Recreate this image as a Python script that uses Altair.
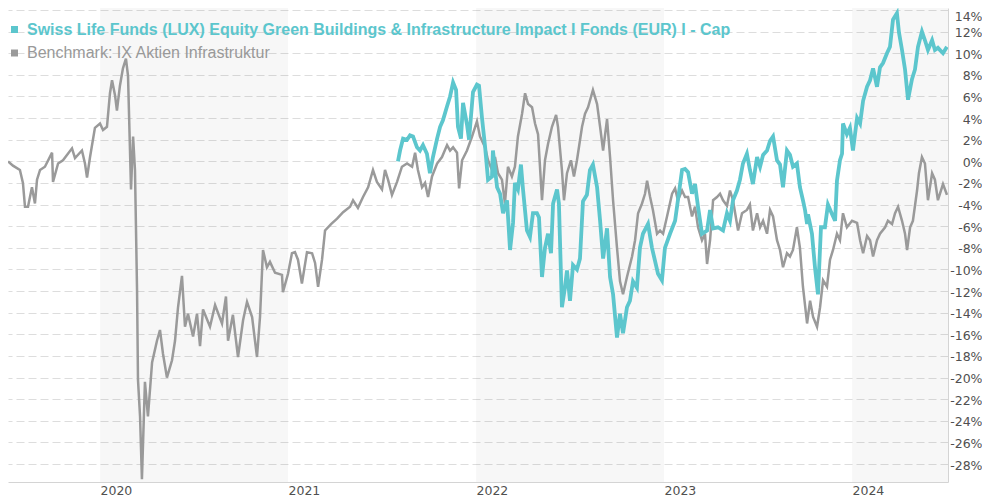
import altair as alt
import pandas as pd

# ---------------- data (decimal years, performance in %) ----------------
fund_name = "Swiss Life Funds (LUX) Equity Green Buildings & Infrastructure Impact I Fonds (EUR) I - Cap"
bench_name = "Benchmark: IX Aktien Infrastruktur"

years = [2020, 2021, 2022, 2023, 2024]
shaded_start = [2020, 2022, 2024]
shaded_end = [2021, 2023, 2025]
y_ticks = list(range(-28, 15, 2))

bench_t = [
    2019.511, 2019.537, 2019.574, 2019.590, 2019.601, 2019.617, 2019.638, 2019.654, 2019.665, 2019.681,
    2019.707, 2019.745, 2019.750, 2019.777, 2019.803, 2019.851, 2019.867, 2019.904, 2019.920, 2019.931,
    2019.947, 2019.973, 2020.000, 2020.016, 2020.037, 2020.053, 2020.064, 2020.080, 2020.090, 2020.106,
    2020.122, 2020.138, 2020.149, 2020.165, 2020.176, 2020.186, 2020.197, 2020.202, 2020.213, 2020.223,
    2020.239, 2020.255, 2020.277, 2020.303, 2020.319, 2020.335, 2020.356, 2020.383, 2020.399, 2020.415,
    2020.436, 2020.452, 2020.468, 2020.495, 2020.516, 2020.532, 2020.548, 2020.585, 2020.612, 2020.649,
    2020.670, 2020.681, 2020.707, 2020.734, 2020.761, 2020.782, 2020.809, 2020.835, 2020.851, 2020.867,
    2020.888, 2020.904, 2020.931, 2020.968, 2020.973, 2021.000, 2021.021, 2021.037, 2021.053, 2021.074,
    2021.101, 2021.128, 2021.144, 2021.160, 2021.181, 2021.197, 2021.229, 2021.261, 2021.293, 2021.330,
    2021.346, 2021.372, 2021.399, 2021.426, 2021.452, 2021.473, 2021.500, 2021.516, 2021.532, 2021.553,
    2021.580, 2021.606, 2021.633, 2021.660, 2021.676, 2021.691, 2021.713, 2021.729, 2021.745, 2021.766,
    2021.793, 2021.819, 2021.846, 2021.862, 2021.878, 2021.899, 2021.910, 2021.926, 2021.952, 2021.979,
    2022.005, 2022.021, 2022.048, 2022.064, 2022.085, 2022.101, 2022.117, 2022.138, 2022.154, 2022.170,
    2022.191, 2022.207, 2022.223, 2022.245, 2022.261, 2022.277, 2022.298, 2022.314, 2022.330, 2022.351,
    2022.367, 2022.383, 2022.404, 2022.426, 2022.436, 2022.457, 2022.468, 2022.484, 2022.505, 2022.521,
    2022.537, 2022.564, 2022.580, 2022.596, 2022.622, 2022.644, 2022.660, 2022.676, 2022.697, 2022.713,
    2022.729, 2022.750, 2022.766, 2022.782, 2022.803, 2022.830, 2022.846, 2022.862, 2022.883, 2022.899,
    2022.910, 2022.926, 2022.941, 2022.963, 2022.979, 2022.995, 2023.016, 2023.043, 2023.059, 2023.074,
    2023.096, 2023.112, 2023.128, 2023.149, 2023.165, 2023.181, 2023.202, 2023.218, 2023.229, 2023.245,
    2023.261, 2023.282, 2023.298, 2023.314, 2023.335, 2023.351, 2023.367, 2023.394, 2023.415, 2023.441,
    2023.457, 2023.473, 2023.495, 2023.511, 2023.527, 2023.548, 2023.564, 2023.580, 2023.601, 2023.617,
    2023.633, 2023.654, 2023.670, 2023.686, 2023.707, 2023.723, 2023.739, 2023.761, 2023.777, 2023.793,
    2023.814, 2023.830, 2023.846, 2023.867, 2023.883, 2023.899, 2023.920, 2023.936, 2023.952, 2023.973,
    2024.000, 2024.027, 2024.043, 2024.059, 2024.080, 2024.096, 2024.112, 2024.133, 2024.149, 2024.176,
    2024.191, 2024.213, 2024.229, 2024.245, 2024.266, 2024.282, 2024.293, 2024.309, 2024.324, 2024.346,
    2024.356, 2024.372, 2024.388, 2024.404, 2024.426, 2024.441, 2024.457, 2024.484, 2024.505,
]
bench_v = [
    0.0, -0.4, -0.8, -2.0, -4.2, -4.2, -2.4, -3.9, -1.7, -0.8,
    -0.5, 0.8, -1.9, -0.2, 0.1, 1.2, 0.3, 1.0, -0.2, -1.5,
    0.4, 3.1, 3.5, 2.9, 3.2, 6.3, 7.5, 6.1, 4.7, 7.0,
    8.6, 9.5, 7.9, -2.6, 2.3, -0.8, -11.9, -20.2, -23.6, -29.4,
    -20.4, -23.6, -18.6, -16.6, -15.6, -17.8, -20.0, -18.4, -16.6, -13.5,
    -10.6, -15.3, -14.1, -16.2, -14.1, -17.1, -13.7, -15.3, -13.3, -15.0,
    -12.5, -16.6, -14.2, -18.1, -14.7, -13.0, -14.4, -18.1, -14.4, -8.2,
    -9.8, -9.3, -10.3, -10.5, -12.1, -10.4, -8.5, -8.4, -9.1, -11.3,
    -8.4, -8.5, -9.4, -11.6, -9.1, -6.4, -5.8, -5.3, -4.7, -4.2,
    -3.6, -4.3, -3.3, -2.4, -0.8, -1.9, -2.6, -0.8, -1.7, -3.1,
    -1.9, -0.5, -0.2, -0.5, 0.8, -0.8, -2.4, -2.0, -3.3, -1.4,
    -0.2, 0.4, 1.5, 1.0, 1.3, 0.8, -2.5, 0.1, 1.0, 2.3,
    3.7, 2.3, 1.3, 0.1, -0.8, 0.4, -1.1, -1.7, -3.9, -0.5,
    -1.4, -0.5, 2.3, 4.4, 6.3, 5.3, 5.0, 3.5, 2.5, -3.6,
    0.1, 1.6, 3.2, 4.3, 3.2, -0.8, -3.6, -1.1, 0.1, -1.4,
    0.1, 3.2, 4.4, 5.0, 6.6, 5.3, 3.2, 1.0, 3.9, 0.4,
    -3.6, -8.0, -11.1, -12.3, -10.7, -8.8, -7.3, -4.8, -3.9, -3.0,
    -1.8, -3.3, -4.5, -6.7, -6.4, -6.7, -5.1, -3.0, -2.5, -3.6,
    -2.7, -3.3, -3.3, -5.1, -4.2, -6.1, -7.3, -6.7, -9.5, -7.3,
    -3.6, -3.3, -3.0, -3.6, -4.1, -2.7, -3.6, -6.4, -4.8, -4.5,
    -4.0, -6.4, -4.8, -6.1, -5.5, -6.7, -4.5, -5.1, -7.3, -8.2,
    -9.8, -8.5, -8.8, -8.2, -6.1, -8.0, -11.6, -15.0, -12.9, -14.4,
    -15.3, -13.5, -11.0, -11.6, -9.1, -8.2, -6.7, -7.3, -4.8, -6.1,
    -5.5, -5.7, -7.3, -8.5, -6.9, -7.3, -8.8, -7.3, -6.7, -6.1,
    -5.5, -5.8, -4.8, -4.2, -5.5, -6.7, -8.2, -6.1, -5.5, -2.7,
    -1.1, 0.4, -0.2, -3.6, -1.1, -1.7, -3.6, -2.1, -3.1,
]

fund_t = [
    2021.585, 2021.596, 2021.612, 2021.633, 2021.649, 2021.665, 2021.686, 2021.702, 2021.718, 2021.739,
    2021.755, 2021.771, 2021.793, 2021.809, 2021.824, 2021.846, 2021.862, 2021.878, 2021.894, 2021.904,
    2021.920, 2021.931, 2021.952, 2021.963, 2021.984, 2022.005, 2022.016, 2022.032, 2022.048, 2022.064,
    2022.085, 2022.090, 2022.112, 2022.128, 2022.144, 2022.165, 2022.181, 2022.197, 2022.207, 2022.223,
    2022.239, 2022.250, 2022.271, 2022.287, 2022.303, 2022.324, 2022.335, 2022.351, 2022.367, 2022.383,
    2022.399, 2022.410, 2022.431, 2022.441, 2022.457, 2022.473, 2022.484, 2022.500, 2022.516, 2022.537,
    2022.553, 2022.569, 2022.590, 2022.606, 2022.622, 2022.644, 2022.660, 2022.676, 2022.697, 2022.713,
    2022.729, 2022.750, 2022.766, 2022.782, 2022.803, 2022.819, 2022.835, 2022.856, 2022.872, 2022.888,
    2022.915, 2022.936, 2022.952, 2022.968, 2022.989, 2023.005, 2023.032, 2023.059, 2023.074, 2023.096,
    2023.112, 2023.128, 2023.149, 2023.165, 2023.181, 2023.202, 2023.229, 2023.245, 2023.261, 2023.287,
    2023.314, 2023.335, 2023.351, 2023.367, 2023.388, 2023.404, 2023.420, 2023.441, 2023.457, 2023.473,
    2023.495, 2023.511, 2023.527, 2023.548, 2023.564, 2023.580, 2023.601, 2023.617, 2023.633, 2023.654,
    2023.670, 2023.686, 2023.707, 2023.723, 2023.739, 2023.750, 2023.761, 2023.766, 2023.787, 2023.803,
    2023.819, 2023.835, 2023.856, 2023.872, 2023.894, 2023.910, 2023.920, 2023.936, 2023.947, 2023.952,
    2023.973, 2023.989, 2024.005, 2024.027, 2024.043, 2024.059, 2024.080, 2024.096, 2024.112, 2024.133,
    2024.149, 2024.165, 2024.186, 2024.202, 2024.218, 2024.239, 2024.250, 2024.266, 2024.282, 2024.298,
    2024.319, 2024.335, 2024.351, 2024.372, 2024.388, 2024.404, 2024.426, 2024.441, 2024.457, 2024.484,
    2024.505,
]
fund_v = [
    0.0, 1.0, 2.1, 2.0, 2.4, 2.3, 1.3, 1.0, 1.5, 0.7,
    -1.1, 0.4, 2.1, 3.2, 3.8, 5.1, 6.0, 7.3, 6.6, 3.2,
    2.1, 5.4, 3.4, 2.0, 6.4, 7.1, 7.0, 4.0, 1.4, -1.7,
    -1.4, 1.0, -2.4, -3.0, -4.8, -3.6, -8.2, -5.7, -2.0, -2.6,
    -0.3, -2.6, -6.4, -7.0, -4.8, -4.8, -5.2, -10.7, -8.0, -6.7,
    -8.5, -3.9, -2.6, -3.9, -13.5, -11.7, -10.1, -12.9, -9.6, -10.0,
    -9.0, -3.7, -3.1, -0.8, -0.3, -2.4, -5.5, -9.0, -6.2, -10.7,
    -12.3, -16.3, -14.1, -15.9, -13.5, -12.9, -11.1, -11.7, -8.0, -6.7,
    -5.8, -8.0, -9.2, -10.4, -11.0, -8.0, -6.7, -5.5, -3.6, -0.8,
    -0.7, -1.0, -3.0, -2.1, -4.2, -6.7, -6.4, -4.5, -6.2, -6.1,
    -6.4, -4.8, -5.5, -3.6, -2.7, -1.7, -0.2, 0.7, -0.8, -2.1,
    0.4, -0.5, 0.6, 1.0, 1.9, 2.3, 0.1, -0.3, -2.4, 1.0,
    0.6, -0.5, -0.2, -2.4, -3.6, -4.5, -5.8, -4.9, -6.7, -9.8,
    -12.3, -6.1, -6.1, -4.0, -4.9, -5.5, -1.8, 0.1, 0.7, 3.5,
    2.5, 3.1, 1.0, 4.0, 3.5, 5.6, 6.9, 7.5, 8.6, 6.9,
    8.7, 9.1, 10.0, 10.6, 13.1, 13.7, 11.9, 10.3, 8.5, 5.7,
    7.6, 8.5, 10.6, 12.0, 11.2, 10.3, 11.2, 10.3, 10.5, 10.0,
    10.6,
]

# ---------------- styling ----------------
TEAL = "#5cc6cd"
GREY = "#9a9a9a"
AXIS_FONT = "DejaVu Sans"

bench_df = pd.DataFrame({"t": bench_t, "v": bench_v})
fund_df = pd.DataFrame({"t": fund_t, "v": fund_v})
band_df = pd.DataFrame({"s": shaded_start, "e": shaded_end})

x_scale = alt.Scale(domain=[2019.5106, 2024.5106], nice=False, zero=False)
y_scale = alt.Scale(domain=[-29.665, 14.185], nice=False, zero=False)

x_axis = alt.Axis(
    values=years, format="d", labelAlign="left", labelBaseline="top", labelPadding=2,
    labelFont=AXIS_FONT, labelFontSize=12.5, labelColor="#505050", labelFlush=False,
    ticks=False, grid=False, domainColor="#d4d4d4", title=None,
)
y_axis = alt.Axis(
    orient="right", values=y_ticks, labelExpr="datum.value + '%'", labelAlign="right",
    labelBaseline="middle", labelPadding=34,
    labelOffset={"condition": {"test": "datum.value >= 14", "value": 7}, "value": 1},
    labelFont=AXIS_FONT, labelFontSize=12.5,
    labelColor="#505050", ticks=False, grid=True, gridColor="#dddddd", gridDash=[8, 4],
    domainColor="#d4d4d4", title=None,
)

bands = alt.Chart(band_df).mark_rect(color="#000000", opacity=0.03, clip=True).encode(
    x=alt.X("s:Q", scale=x_scale, axis=x_axis),
    x2="e:Q",
)

bench_line = alt.Chart(bench_df).mark_line(color=GREY, strokeWidth=2.5, clip=True).encode(
    x=alt.X("t:Q", scale=x_scale, axis=x_axis),
    y=alt.Y("v:Q", scale=y_scale, axis=y_axis),
    order="t:Q",
)

fund_line = alt.Chart(fund_df).mark_line(color=TEAL, strokeWidth=3.8, clip=True).encode(
    x=alt.X("t:Q", scale=x_scale, axis=x_axis),
    y=alt.Y("v:Q", scale=y_scale, axis=y_axis),
    order="t:Q",
)

leg_fund_df = pd.DataFrame({"label": [fund_name]})
leg_bench_df = pd.DataFrame({"label": [bench_name]})

leg_fund_sq = alt.Chart(leg_fund_df).mark_point(shape="square", filled=True, size=49, color=TEAL, opacity=1).encode(
    x=alt.value(6.5), y=alt.value(21.5)
)
leg_fund_txt = alt.Chart(leg_fund_df).mark_text(
    align="left", baseline="middle", font="Liberation Sans", fontSize=16, fontWeight="bold", color=TEAL
).encode(x=alt.value(19), y=alt.value(22), text="label:N")

leg_bench_sq = alt.Chart(leg_bench_df).mark_point(shape="square", filled=True, size=49, color=GREY, opacity=1).encode(
    x=alt.value(6.5), y=alt.value(45)
)
leg_bench_txt = alt.Chart(leg_bench_df).mark_text(
    align="left", baseline="middle", font="Liberation Sans", fontSize=16, color="#999999"
).encode(x=alt.value(19), y=alt.value(45), text="label:N")

chart = alt.layer(
    bands, bench_line, fund_line, leg_fund_sq, leg_fund_txt, leg_bench_sq, leg_bench_txt
).properties(
    width=940, height=474,
    autosize=alt.AutoSizeParams(type="none"),
    padding={"left": 0, "top": 0, "right": 34, "bottom": 16},
    background="white",
).configure_view(stroke=None)

chart.save("out.html", embed_options={"renderer": "svg", "actions": False})
